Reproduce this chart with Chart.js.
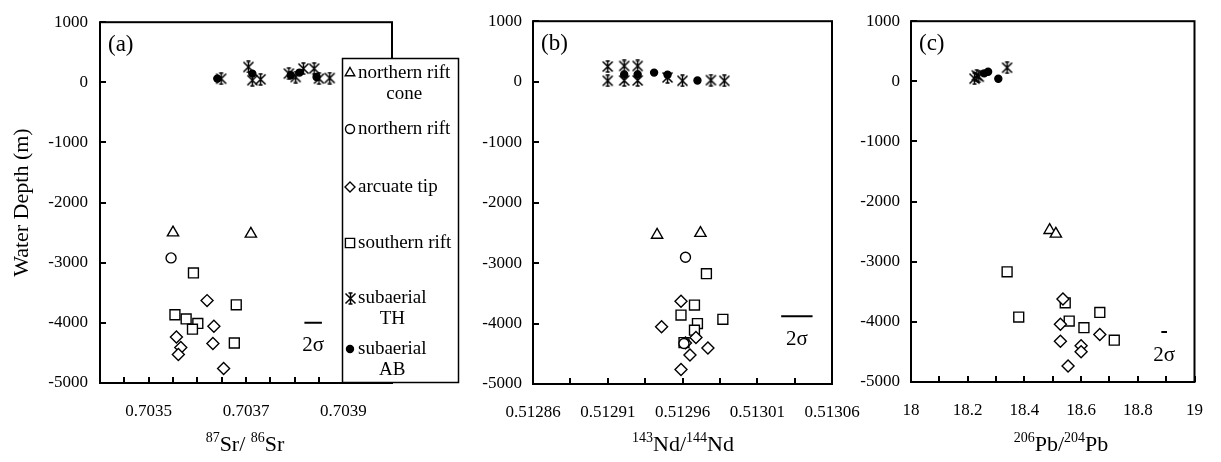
<!DOCTYPE html>
<html>
<head>
<meta charset="utf-8">
<script src="https://cdn.jsdelivr.net/npm/chart.js@4.4.0/dist/chart.umd.min.js"></script>
<style>
html, body { margin: 0; padding: 0; background: #fff; }
#wrap { position: relative; width: 1221px; height: 462px; overflow: hidden; font-family: "Liberation Serif", serif; }
canvas { position: absolute; left: 0; top: 0; }
.xt { position: absolute; top: 431px; font-size: 22px; color: #000; transform: translateX(-50%); white-space: nowrap; line-height: 26px; }
.xt sup { font-size: 14px; position: relative; top: -9px; vertical-align: baseline; }
</style>
</head>
<body>
<div id="wrap">
  <canvas id="cA" width="1221" height="462"></canvas>
  <canvas id="cB" width="1221" height="462"></canvas>
  <canvas id="cC" width="1221" height="462"></canvas>
  <div class="xt" style="left:245px"><sup>87</sup>Sr/ <sup>86</sup>Sr</div>
  <div class="xt" style="left:683px"><sup>143</sup>Nd/<sup>144</sup>Nd</div>
  <div class="xt" style="left:1061px"><sup>206</sup>Pb/<sup>204</sup>Pb</div>
</div>
<script>
// axis limits
const depthRange = [-5000, 1000];
const srRange = [0.7034, 0.7040];
const ndRange = [0.51286, 0.51306];
const pbRange = [18, 19];

// tick labels
const depthLabels = ['1000', '0', '-1000', '-2000', '-3000', '-4000', '-5000'];
const srLabels = ['0.7035', '0.7037', '0.7039'];
const ndLabels = ['0.51286', '0.51291', '0.51296', '0.51301', '0.51306'];
const pbLabels = ['18', '18.2', '18.4', '18.6', '18.8', '19'];

// (a) 87Sr/86Sr vs depth
const srCone = [[0.70355, -2500], [0.70371, -2520]];
const srNorth = [[0.703546, -2920]];
const srArcuate = [[0.70362, -3630], [0.703634, -4055], [0.703557, -4235], [0.703566, -4410], [0.703561, -4525], [0.703632, -4345], [0.703654, -4760]];
const srSouth = [[0.703592, -3170], [0.70368, -3700], [0.703554, -3865], [0.703577, -3935], [0.703601, -4010], [0.70359, -4105], [0.703676, -4335]];
const srTH = [[0.703649, 60], [0.703705, 255], [0.703713, 35], [0.70373, 50], [0.703788, 145], [0.703802, 88], [0.703818, 228], [0.70384, 228], [0.70385, 62], [0.703872, 72]];
const srAB = [[0.703641, 62], [0.703713, 145], [0.703792, 117], [0.70381, 162], [0.703845, 88]];
const srErr = [[0.70382, -4000], [0.703856, -4000]];

// (b) 143Nd/144Nd vs depth
const ndCone = [[0.512943, -2535], [0.512972, -2505]];
const ndNorth = [[0.512962, -2905], [0.512961, -4330]];
const ndArcuate = [[0.512959, -3630], [0.512946, -4055], [0.512969, -4230], [0.512977, -4405], [0.512965, -4520], [0.512959, -4760], [0.512962, -4320]];
const ndSouth = [[0.512976, -3175], [0.512968, -3695], [0.512959, -3860], [0.51297, -4000], [0.512968, -4110], [0.512987, -3930], [0.512961, -4315]];
const ndTH = [[0.51291, 250], [0.51291, 15], [0.512921, 260], [0.512921, 20], [0.51293, 260], [0.51293, 20], [0.51295, 70], [0.51296, 15], [0.512979, 25], [0.512988, 15]];
const ndAB = [[0.512921, 120], [0.51293, 120], [0.512941, 150], [0.51295, 115], [0.51297, 20]];
const ndErr = [[0.513026, -3880], [0.513047, -3880]];

// (c) 206Pb/204Pb vs depth
const pbCone = [[18.489, -2476], [18.511, -2537]];
const pbArcuate = [[18.536, -3618], [18.527, -4041], [18.527, -4321], [18.60, -4399], [18.60, -4498], [18.666, -4211], [18.554, -4733]];
const pbSouth = [[18.339, -3168], [18.38, -3921], [18.544, -3684], [18.558, -3987], [18.61, -4096], [18.666, -3843], [18.717, -4305]];
const pbTH = [[18.224, 44], [18.239, 77], [18.232, 100], [18.339, 226]];
const pbAB = [[18.258, 132], [18.272, 160], [18.308, 44]];
const pbErr = [[18.883, -4170], [18.903, -4170]];

const FONT = '"Liberation Serif", "Times New Roman", serif';

function xy(arr) { return arr.map(p => ({ x: p[0], y: p[1] })); }

// six-armed asterisk marker (X plus vertical stroke)
function makeStar(size) {
  const c = document.createElement('canvas');
  c.width = c.height = size;
  const g = c.getContext('2d');
  g.strokeStyle = '#000';
  g.lineWidth = 1.5;
  const a = 1.5, b = size - 1.5, m = size / 2;
  g.beginPath();
  g.moveTo(a, a); g.lineTo(b, b);
  g.moveTo(b, a); g.lineTo(a, b);
  g.moveTo(m, 0.5); g.lineTo(m, size - 0.5);
  g.moveTo(m - 2, 1); g.lineTo(m + 2, 1);
  g.moveTo(m - 2, size - 1); g.lineTo(m + 2, size - 1);
  g.stroke();
  return c;
}
const starImg = makeStar(13);

const styles = {
  cone: { pointStyle: 'triangle', radius: 6.5, fill: '#fff' },
  north: { pointStyle: 'circle', radius: 5, fill: '#fff' },
  arcuate: { pointStyle: 'rectRot', radius: 6, fill: '#fff' },
  south: { pointStyle: 'rect', radius: 7, fill: '#fff' },
  th: { pointStyle: starImg, radius: 6, fill: '#000' },
  ab: { pointStyle: 'circle', radius: 3.5, fill: '#000' }
};

function ds(label, arr, st) {
  return {
    label: label,
    data: xy(arr),
    pointStyle: st.pointStyle,
    pointRadius: st.radius,
    pointHoverRadius: st.radius,
    pointBackgroundColor: st.fill,
    pointBorderColor: '#000',
    pointBorderWidth: 1.4,
    showLine: false
  };
}

function errDs(arr) {
  return {
    type: 'line',
    data: xy(arr),
    borderColor: '#000',
    borderWidth: 2,
    pointRadius: 0,
    showLine: true,
    fill: false
  };
}

// frame + inward tick marks + panel letter + 2σ text
const framePlugin = {
  id: 'frame',
  beforeDatasetsDraw(chart, args, opts) {
    const ctx = chart.ctx, a = chart.chartArea;
    const xs = chart.scales.x, ys = chart.scales.y;
    ctx.save();
    ctx.strokeStyle = '#000';
    ctx.lineWidth = 2;
    ctx.strokeRect(a.left, a.top, a.right - a.left, a.bottom - a.top);
    ctx.beginPath();
    xs.ticks.forEach((t, i) => {
      const px = Math.round(xs.getPixelForTick(i));
      ctx.moveTo(px, a.bottom); ctx.lineTo(px, a.bottom - 6);
    });
    ys.ticks.forEach((t, i) => {
      const py = Math.round(ys.getPixelForTick(i));
      ctx.moveTo(a.left, py); ctx.lineTo(a.left + 6, py);
    });
    ctx.stroke();
    ctx.fillStyle = '#000';
    ctx.font = '23px ' + FONT;
    ctx.textBaseline = 'middle';
    ctx.textAlign = 'left';
    ctx.fillText(opts.letter, a.left + 8, a.top + 23);
    const e = opts.err;
    ctx.font = '21px ' + FONT;
    ctx.textAlign = 'center';
    ctx.fillText('2σ', xs.getPixelForValue((e[0][0] + e[1][0]) / 2), ys.getPixelForValue(e[0][1]) + 23);
    ctx.restore();
  }
};

function drawSym(ctx, st, x, y, r) {
  ctx.save();
  ctx.strokeStyle = '#000';
  ctx.lineWidth = 1.4;
  ctx.fillStyle = st.fill;
  ctx.beginPath();
  if (st.pointStyle === 'triangle') {
    ctx.moveTo(x, y - r);
    ctx.lineTo(x + r * 0.866, y + r * 0.5);
    ctx.lineTo(x - r * 0.866, y + r * 0.5);
    ctx.closePath();
  } else if (st.pointStyle === 'circle') {
    ctx.arc(x, y, r, 0, Math.PI * 2);
  } else if (st.pointStyle === 'rectRot') {
    ctx.moveTo(x, y - r); ctx.lineTo(x + r, y); ctx.lineTo(x, y + r); ctx.lineTo(x - r, y); ctx.closePath();
  } else if (st.pointStyle === 'rect') {
    const s = r * 0.707;
    ctx.rect(x - s, y - s, 2 * s, 2 * s);
  } else {
    const img = st.pointStyle;
    ctx.drawImage(img, Math.round(x - img.width / 2), Math.round(y - img.height / 2));
    ctx.restore();
    return;
  }
  ctx.fill();
  ctx.stroke();
  ctx.restore();
}

const legendItems = [
  { st: styles.cone, r: 5.5, lines: ['northern rift', 'cone'], y: 73 },
  { st: styles.north, r: 4.5, lines: ['northern rift'], y: 129 },
  { st: styles.arcuate, r: 5, lines: ['arcuate tip'], y: 187 },
  { st: styles.south, r: 6.5, lines: ['southern rift'], y: 243 },
  { st: styles.th, r: 6, lines: ['subaerial', 'TH'], y: 298 },
  { st: styles.ab, r: 3.5, lines: ['subaerial', 'AB'], y: 349 }
];

const legendPlugin = {
  id: 'boxLegend',
  afterDraw(chart) {
    const ctx = chart.ctx;
    ctx.save();
    ctx.fillStyle = '#fff';
    ctx.fillRect(342, 58, 117, 325);
    ctx.strokeStyle = '#000';
    ctx.lineWidth = 1.5;
    ctx.strokeRect(342.5, 58.5, 116, 324);
    ctx.font = '19px ' + FONT;
    ctx.textBaseline = 'middle';
    legendItems.forEach(it => {
      drawSym(ctx, it.st, 350, it.y, it.r);
      ctx.fillStyle = '#000';
      ctx.textAlign = 'left';
      ctx.fillText(it.lines[0], 358, it.y);
      if (it.lines[1]) {
        const w = ctx.measureText(it.lines[0]).width;
        ctx.textAlign = 'center';
        ctx.fillText(it.lines[1], 358 + w / 2, it.y + 21);
      }
    });
    ctx.restore();
  }
};

// labelEvery / labelOffset pick which of the minor ticks carry a label
function makePanel(id, area, xRange, step, labels, labelEvery, labelOffset, datasets, letter, err, yPad, yTitle, plugins) {
  const cfg = {
    type: 'scatter',
    data: { datasets: datasets },
    options: {
      responsive: false,
      animation: false,
      events: [],
      layout: { padding: { left: area[0] - 100, right: 1221 - area[1], top: area[2], bottom: 0 } },
      plugins: {
        legend: { display: false },
        tooltip: { enabled: false },
        frame: { letter: letter, err: err }
      },
      scales: {
        x: {
          type: 'linear',
          min: xRange[0],
          max: xRange[1],
          grid: { display: false, drawTicks: false },
          border: { display: false },
          afterFit: s => { s.height = 462 - area[3]; },
          ticks: {
            stepSize: step,
            autoSkip: false,
            maxRotation: 0,
            padding: 18,
            color: '#000',
            font: { family: FONT, size: 17 },
            callback: (v, i) => {
              const k = i - labelOffset;
              if (k < 0 || k % labelEvery !== 0) return '';
              return labels[k / labelEvery] || '';
            }
          }
        },
        y: {
          type: 'linear',
          min: depthRange[0],
          max: depthRange[1],
          grid: { display: false, drawTicks: false },
          border: { display: false },
          afterFit: s => { s.width = 100; },
          title: {
            display: !!yTitle,
            text: yTitle || '',
            color: '#000',
            font: { family: FONT, size: 22 },
            padding: { top: 9, bottom: 0 }
          },
          ticks: {
            stepSize: 1000,
            padding: yPad,
            color: '#000',
            font: { family: FONT, size: 17 },
            callback: v => { const t = String(Math.round(v)); return depthLabels.includes(t) ? t : ''; }
          }
        }
      }
    },
    plugins: [framePlugin].concat(plugins)
  };
  return new Chart(document.getElementById(id), cfg);
}

makePanel('cA', [100, 392, 22, 383], srRange, 0.00005, srLabels, 4, 2, [
  ds('northern rift cone', srCone, styles.cone),
  ds('northern rift', srNorth, styles.north),
  ds('arcuate tip', srArcuate, styles.arcuate),
  ds('southern rift', srSouth, styles.south),
  ds('subaerial AB', srAB, styles.ab),
  ds('subaerial TH', srTH, styles.th),
  errDs(srErr)
], '(a)', srErr, 12, 'Water Depth (m)', [legendPlugin]);

makePanel('cB', [533, 832, 19, 384], ndRange, 0.000025, ndLabels, 2, 0, [
  ds('northern rift cone', ndCone, styles.cone),
  ds('northern rift', ndNorth, styles.north),
  ds('arcuate tip', ndArcuate, styles.arcuate),
  ds('southern rift', ndSouth, styles.south),
  ds('subaerial AB', ndAB, styles.ab),
  ds('subaerial TH', ndTH, styles.th),
  errDs(ndErr)
], '(b)', ndErr, 11, null, []);

makePanel('cC', [911, 1211, 18, 382], pbRange, 0.1, pbLabels, 2, 0, [
  ds('northern rift cone', pbCone, styles.cone),
  ds('arcuate tip', pbArcuate, styles.arcuate),
  ds('southern rift', pbSouth, styles.south),
  ds('subaerial AB', pbAB, styles.ab),
  ds('subaerial TH', pbTH, styles.th),
  errDs(pbErr)
], '(c)', pbErr, 11, null, []);
</script>
</body>
</html>
